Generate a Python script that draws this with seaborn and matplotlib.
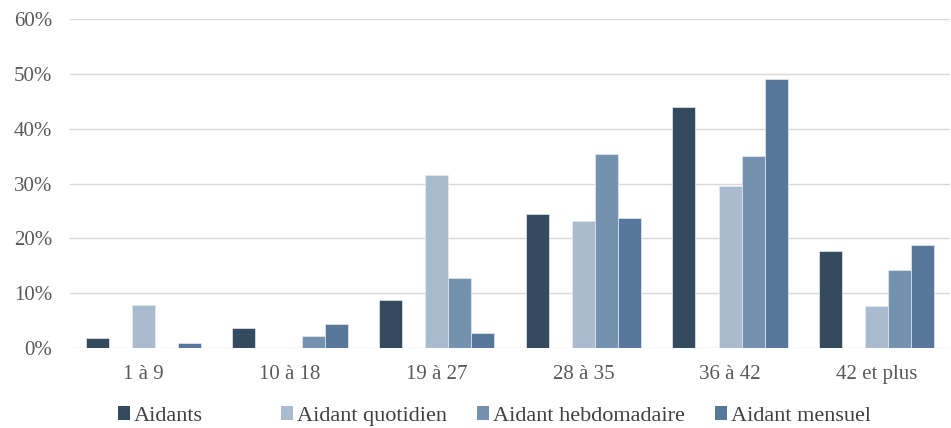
import numpy as np
import pandas as pd
import matplotlib
matplotlib.use('Agg')
import matplotlib.pyplot as plt
from matplotlib.patches import Patch
from matplotlib.ticker import FuncFormatter
import seaborn as sns

categories = ['1 à 9', '10 à 18', '19 à 27', '28 à 35', '36 à 42', '42 et plus']
series = ['Aidants', ' ', 'Aidant quotidien', 'Aidant hebdomadaire', 'Aidant mensuel']

aidants = [1.8, 3.6, 8.7, 24.4, 43.9, 17.7]
vide = [0, 0, 0, 0, 0, 0]
quotidien = [7.9, 0, 31.6, 23.1, 29.6, 7.6]
hebdomadaire = [0, 2.2, 12.7, 35.4, 35.1, 14.3]
mensuel = [0.9, 4.3, 2.8, 23.8, 49.0, 18.8]

colors = ['#344A5F', '#FFFFFF', '#AABACF', '#7491B0', '#57789B']
# legend square left edges (pixels)
legend_x = [118, None, 281, 477, 715]

rows = []
for name, vals in zip(series, [aidants, vide, quotidien, hebdomadaire, mensuel]):
    for cat, v in zip(categories, vals):
        rows.append({'cat': cat, 'serie': name, 'val': v / 100})
df = pd.DataFrame(rows)

sns.set_theme(style='white')
plt.rcParams['font.family'] = ['Liberation Serif', 'DejaVu Serif']

fig, ax = plt.subplots(figsize=(9.51, 4.28), dpi=100)
fig.subplots_adjust(left=0.0736, right=0.999, top=0.9556, bottom=0.1869)

sns.barplot(data=df, x='cat', y='val', hue='serie', order=categories, hue_order=series,
            palette=colors, saturation=1, width=0.785, ax=ax, errorbar=None, legend=False,
            edgecolor='#E6EAF0', linewidth=0.5)

for p in ax.patches:
    if p.get_height() == 0:
        p.set_linewidth(0)

ax.set_xlim(-0.5, 5.5)
ax.set_ylim(0, 0.6)
ax.set_yticks(np.arange(0, 0.61, 0.1))
ax.yaxis.set_major_formatter(FuncFormatter(lambda v, _: f'{v*100:.0f}%'))
ax.grid(axis='y', color='#D9D9D9', linewidth=1)
ax.set_axisbelow(True)
for s in ax.spines.values():
    s.set_visible(False)
ax.tick_params(axis='both', length=0, labelsize=15, colors='#595959')
ax.tick_params(axis='y', pad=13)
ax.tick_params(axis='x', pad=12)
ax.set_xlabel('')
ax.set_ylabel('')

for name, c, x in zip(series, colors, legend_x):
    if x is None:
        continue
    fig.legend([Patch(facecolor=c, edgecolor='none')], [name], loc='center left',
               bbox_to_anchor=(x / 951, 0.028), frameon=False, fontsize=16,
               handlelength=0.55, handleheight=0.58, handletextpad=0.15,
               borderpad=0, borderaxespad=0, labelcolor='#404040')

fig.savefig('out.png', dpi=100)
